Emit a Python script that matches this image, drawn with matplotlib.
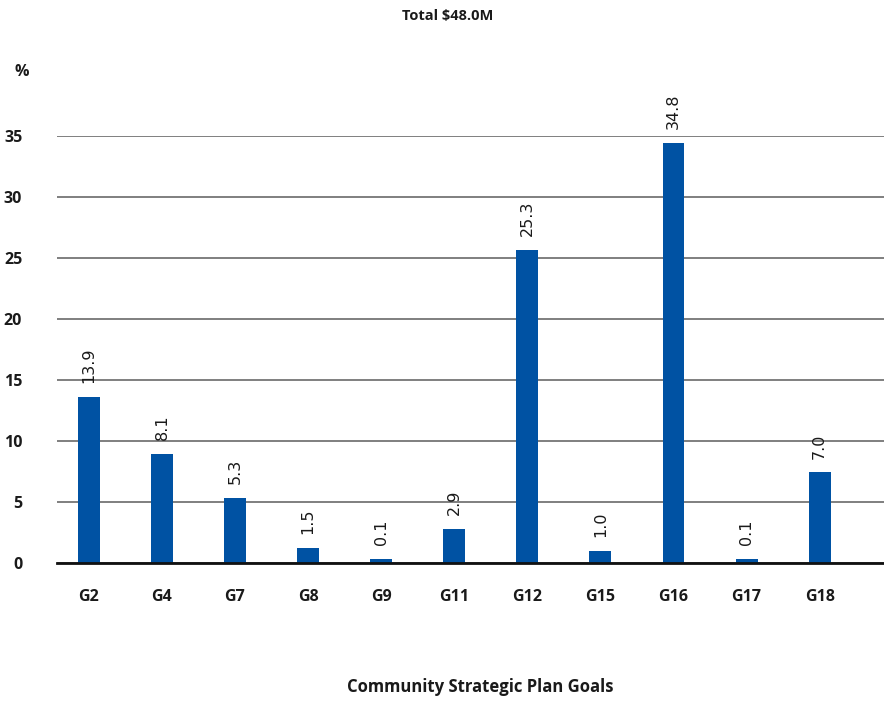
"""Bar chart of spending share by community strategic plan goal."""

import matplotlib

matplotlib.use("Agg")
import matplotlib.pyplot as plt
import numpy as np

goals = ["G2", "G4", "G7", "G8", "G9", "G11", "G12", "G15", "G16", "G17", "G18"]
bar_values = [13.6, 8.9, 5.3, 1.2, 0.3, 2.8, 25.6, 1.0, 34.4, 0.3, 7.4]
value_labels = ["13.9", "8.1", "5.3", "1.5", "0.1", "2.9", "25.3", "1.0", "34.8", "0.1", "7.0"]
y_ticks = [0, 5, 10, 15, 20, 25, 30, 35]

BAR_COLOR = "#0052a3"
TEXT_COLOR = "#1a1a1a"
TICK_FONT = ["Open Sans", "DejaVu Sans"]

fig = plt.figure(figsize=(8.84, 7.01), dpi=100)
ax = fig.add_axes([57 / 884, 1 - 562.7 / 701, 1 - 57 / 884, (562.7 - 135.7) / 701])

x = np.arange(len(goals))
ax.bar(x, bar_values, width=0.30, color=BAR_COLOR, zorder=3)

for xi, val, lab in zip(x, bar_values, value_labels):
    ax.annotate(lab, (xi, val), xytext=(0, 10), textcoords="offset points",
                rotation=90, ha="center", va="bottom", fontsize=11.5,
                family="DejaVu Sans", color=TEXT_COLOR)

ax.set_xlim(-0.435, 10.88)
ax.set_ylim(0, 35)
ax.set_yticks(y_ticks)
ax.set_xticks(x)
ax.set_xticklabels(goals)
ax.yaxis.grid(True, color="#7f7f7f", linewidth=1.4, zorder=0)
ax.set_axisbelow(True)

for side in ("top", "right", "left"):
    ax.spines[side].set_visible(False)
ax.spines["bottom"].set_color("#111111")
ax.spines["bottom"].set_linewidth(2)
ax.spines["bottom"].set_zorder(4)

ax.tick_params(axis="both", length=0, labelcolor=TEXT_COLOR)
ax.tick_params(axis="x", pad=19)
ax.tick_params(axis="y", pad=25)
for lbl in ax.get_xticklabels() + ax.get_yticklabels():
    lbl.set_fontfamily(TICK_FONT)
    lbl.set_fontweight("bold")
    lbl.set_fontsize(11.5)

fig.text(448 / 884, 1 - 16 / 701, "Total $48.0M", ha="center", va="center",
         fontsize=10.5, fontweight="bold", family=TICK_FONT, color=TEXT_COLOR)
fig.text(22 / 884, 1 - 72 / 701, "%", ha="center", va="center",
         fontsize=11.5, fontweight="bold", family=TICK_FONT, color=TEXT_COLOR)
fig.text(480 / 884, 1 - 687 / 701, "Community Strategic Plan Goals", ha="center",
         va="center", fontsize=12, fontweight="bold", family=TICK_FONT,
         color=TEXT_COLOR)

fig.savefig("out.png", dpi=100)
